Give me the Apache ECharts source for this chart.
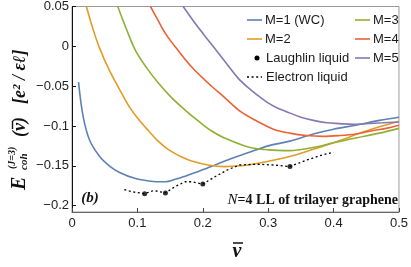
<!DOCTYPE html>
<html><head><meta charset="utf-8">
<script src="https://cdn.jsdelivr.net/npm/echarts@6/dist/echarts.min.js"></script>
<style>html,body{margin:0;padding:0;background:#fff}#c{width:411px;height:267px}</style>
</head><body><div id="c"></div>
<script>
// ---- data ----
const m1X = [0.010,0.017,0.027,0.042,0.057,0.072,0.097,0.117,0.130,0.143,0.158,0.173,0.190,0.213,0.240,0.268,0.300,0.333,0.369,0.400,0.434,0.470,0.500];
const m1Y = [-0.045,-0.088,-0.118,-0.138,-0.150,-0.158,-0.166,-0.169,-0.170,-0.170,-0.167,-0.163,-0.158,-0.151,-0.142,-0.134,-0.125,-0.119,-0.110,-0.104,-0.099,-0.093,-0.089];
const m2X = [0.022,0.032,0.042,0.057,0.072,0.087,0.102,0.117,0.133,0.148,0.168,0.183,0.208,0.233,0.258,0.283,0.313,0.343,0.370,0.400,0.444,0.470,0.500];
const m2Y = [0.050,0.022,-0.002,-0.030,-0.053,-0.075,-0.092,-0.106,-0.120,-0.130,-0.139,-0.144,-0.149,-0.151,-0.150,-0.147,-0.142,-0.136,-0.129,-0.121,-0.108,-0.101,-0.094];
const m3X = [0.070,0.083,0.097,0.115,0.133,0.153,0.173,0.195,0.213,0.233,0.268,0.300,0.333,0.369,0.400,0.434,0.470,0.500];
const m3Y = [0.050,0.022,-0.005,-0.028,-0.047,-0.065,-0.080,-0.095,-0.106,-0.115,-0.126,-0.130,-0.131,-0.127,-0.121,-0.115,-0.109,-0.103];
const m4X = [0.120,0.130,0.143,0.163,0.183,0.208,0.233,0.258,0.283,0.308,0.333,0.358,0.384,0.409,0.434,0.459,0.480,0.500];
const m4Y = [0.050,0.035,0.016,-0.006,-0.026,-0.046,-0.064,-0.082,-0.094,-0.104,-0.109,-0.112,-0.113,-0.112,-0.110,-0.106,-0.103,-0.099];
const m5X = [0.170,0.190,0.208,0.230,0.253,0.268,0.283,0.298,0.313,0.328,0.350,0.369,0.390,0.409,0.430,0.449,0.475,0.500];
const m5Y = [0.050,0.027,0.008,-0.015,-0.039,-0.051,-0.061,-0.070,-0.077,-0.082,-0.089,-0.093,-0.096,-0.097,-0.098,-0.097,-0.096,-0.095];
const laughX = [1/9, 1/7, 1/5, 1/3];
const laughY = [-0.185, -0.184, -0.173, -0.151];
const elecX = [0.080,0.095,0.111,0.125,0.143,0.158,0.173,0.183,0.200,0.218,0.238,0.256,0.283,0.308,0.333,0.358,0.384,0.400];
const elecY = [-0.180,-0.183,-0.185,-0.181,-0.184,-0.176,-0.170,-0.170,-0.173,-0.164,-0.155,-0.149,-0.148,-0.149,-0.151,-0.143,-0.136,-0.133];
const xTicks = [0, 0.1, 0.2, 0.3, 0.4, 0.5];
const yTicks = [-0.2, -0.15, -0.1, -0.05, 0, 0.05];
const names = ['M=1 (WC)', 'M=2', 'M=3', 'M=4', 'M=5', 'Laughlin liquid', 'Electron liquid'];
const colors = ['#5E81B5', '#E19C24', '#8FB032', '#EB6235', '#8778B3'];

const zip = (a, b) => a.map((v, i) => [v, b[i]]);
const curves = [[m1X,m1Y],[m2X,m2Y],[m3X,m3Y],[m4X,m4Y],[m5X,m5Y]];

const chart = echarts.init(document.getElementById('c'), null, {renderer: 'canvas'});
const fmt = v => { const s = String(+v.toFixed(3)); return s.startsWith('-') ? '\u2212' + s.slice(1) : s; };
const f = (s) => 'bold italic ' + s + 'px "Liberation Serif", serif';

const series = curves.map((c, i) => ({
  name: names[i], type: 'line', data: zip(c[0], c[1]), smooth: 0.35, symbol: 'none',
  lineStyle: {color: colors[i], width: 1.6}, z: 3
}));
series.push({name: names[6], type: 'line', data: zip(elecX, elecY), symbol: 'none',
  lineStyle: {color: '#000', width: 1.3, type: [2, 2.6]}, z: 4});
series.push({name: names[5], type: 'scatter', data: zip(laughX, laughY), symbol: 'circle', symbolSize: 5,
  itemStyle: {color: '#000'}, z: 5});

// legend drawn as graphic keys
const legendRows = [
  {x: 247, y: 20, kind: 'line', color: colors[0], text: names[0]},
  {x: 247, y: 39, kind: 'line', color: colors[1], text: names[1]},
  {x: 247, y: 58, kind: 'dot', color: '#000', text: names[5]},
  {x: 247, y: 77, kind: 'dash', color: '#000', text: names[6]},
  {x: 355, y: 20, kind: 'line', color: colors[2], text: names[2]},
  {x: 355, y: 39, kind: 'line', color: colors[3], text: names[3]},
  {x: 355, y: 58, kind: 'line', color: colors[4], text: names[4]},
];
const legendG = [];
legendRows.forEach(r => {
  if (r.kind === 'dot') {
    legendG.push({type: 'circle', shape: {cx: r.x + 10, cy: r.y, r: 2.5}, style: {fill: '#000'}});
  } else {
    legendG.push({type: 'line', shape: {x1: r.x, y1: r.y, x2: r.x + 15, y2: r.y},
      style: {stroke: r.color, lineWidth: r.kind === 'dash' ? 1.3 : 1.6, lineDash: r.kind === 'dash' ? [2, 2.6] : null}});
  }
  legendG.push({type: 'text', x: r.x + (r.kind === 'line' ? 18 : 19), y: r.y,
    style: {text: r.text, font: '13px "Liberation Sans", Arial, sans-serif', fill: '#1a1a1a', verticalAlign: 'middle', align: 'left'}});
});

const yTitle = {
  type: 'group', x: 20, y: 190, rotation: Math.PI / 2,
  children: [
    {type: 'text', x: 0, y: 0, style: {text: 'E', font: f(20), fill: '#111', verticalAlign: 'middle', align: 'left'}},
    {type: 'text', x: 21, y: -7.5, style: {text: '(J=3)', font: f(10), fill: '#111', verticalAlign: 'middle', align: 'left'}},
    {type: 'text', x: 20, y: 4.5, style: {text: 'coh', font: f(11), fill: '#111', verticalAlign: 'middle', align: 'left'}},
    {type: 'text', x: 53, y: 0, style: {text: '(\u03bd)', font: f(18), fill: '#111', verticalAlign: 'middle', align: 'left'}},
    {type: 'line', shape: {x1: 61, y1: -7.5, x2: 69, y2: -7.5}, style: {stroke: '#111', lineWidth: 1.4}},
    {type: 'text', x: 86, y: 0, style: {text: '[e\u00b2 / \u03b5\u2113]', font: f(18), fill: '#111', verticalAlign: 'middle', align: 'left'}},
  ]
};

const option = {
  animation: false,
  backgroundColor: '#fff',
  grid: {left: 72, right: 7, top: 6, bottom: 55, show: true, borderColor: '#9a9a9a', borderWidth: 1, backgroundColor: 'transparent'},
  xAxis: {
    type: 'value', min: 0, max: 0.5, interval: 0.1,
    axisLine: {show: true, onZero: false, lineStyle: {color: '#666', width: 1}},
    axisTick: {show: true, inside: true, length: 4, lineStyle: {color: '#444'}, customValues: xTicks},
    axisLabel: {color: '#222', fontSize: 13, fontFamily: '"Liberation Sans", Arial, sans-serif', margin: 5, formatter: fmt, customValues: xTicks},
    splitLine: {show: false}
  },
  yAxis: {
    type: 'value', min: -0.208, max: 0.05,
    axisLine: {show: true, onZero: false, lineStyle: {color: '#111', width: 1}},
    axisTick: {show: true, inside: true, length: 4, lineStyle: {color: '#111'}, customValues: yTicks},
    axisLabel: {color: '#222', fontSize: 13, fontFamily: '"Liberation Sans", Arial, sans-serif', margin: 3, formatter: fmt, customValues: yTicks},
    splitLine: {show: false}
  },
  series: series,
  graphic: [
    ...legendG,
    yTitle,
    {type: 'text', x: 237, y: 252, style: {text: '\u03bd', font: f(20), fill: '#111', align: 'center', verticalAlign: 'middle'}},
    {type: 'line', shape: {x1: 233, y1: 243, x2: 243, y2: 243}, style: {stroke: '#111', lineWidth: 1.5}},
    {type: 'text', x: 90, y: 198, style: {text: '(b)', font: f(15), fill: '#111', align: 'center', verticalAlign: 'middle'}},
    {type: 'text', x: 398, y: 200, style: {text: '{n|N}{t|=4 LL of trilayer graphene}', align: 'right', verticalAlign: 'middle',
      rich: {n: {font: 'italic 15px "Liberation Serif", serif', fill: '#111'}, t: {font: 'bold 14px "Liberation Serif", serif', fill: '#111'}}}}
  ]
};
chart.setOption(option);
</script></body></html>
